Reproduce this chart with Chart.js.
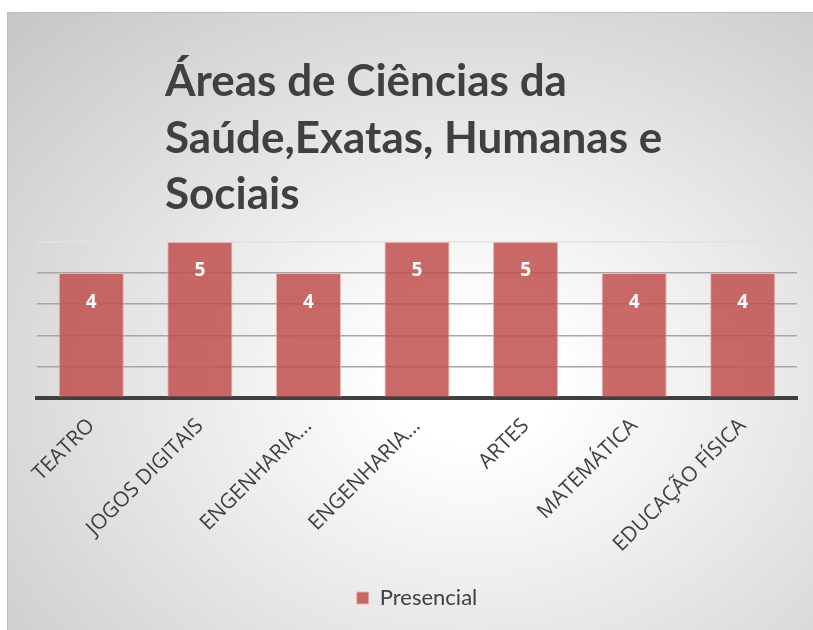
<!DOCTYPE html>
<html>
<head>
<meta charset="utf-8">
<script src="https://cdn.jsdelivr.net/npm/chart.js@4"></script>
<style>
  html, body { margin: 0; padding: 0; background: #fff; }
  #wrap {
    position: absolute; left: 7px; top: 12px; width: 806px; height: 618px;
    border-left: 1px solid #bdbdbd; border-top: 1px solid #bdbdbd;
    box-sizing: border-box;
    background: radial-gradient(ellipse farthest-corner at 58% 60%, #ffffff 0%, #ffffff 12%, #c6c6c6 100%);
  }
</style>
</head>
<body>
<div id="wrap"><canvas id="chart"></canvas></div>
<script>
const titleLines = ["Áreas de Ciências da", "Saúde,Exatas, Humanas e", "Sociais"];
const categories = ["TEATRO", "JOGOS DIGITAIS", "ENGENHARIA...", "ENGENHARIA...", "ARTES", "MATEMÁTICA", "EDUCAÇÃO FÍSICA"];
const presencial = [4, 5, 4, 5, 5, 4, 4];
const yTicks = [0, 1, 2, 3, 4, 5];

const textColor = "#404040";

// title is left aligned well inside the plot, so it is drawn by hand
const titlePlugin = {
  id: "titleBlock",
  afterDraw(chart) {
    const ctx = chart.ctx;
    ctx.save();
    ctx.fillStyle = textColor;
    ctx.font = "bold 44px Lato";
    ctx.textBaseline = "alphabetic";
    ctx.textAlign = "left";
    titleLines.forEach((line, i) => {
      ctx.fillText(line, 157, 83 + i * 56.5);
    });
    ctx.restore();
  }
};

const barLabels = {
  id: "barLabels",
  afterDatasetsDraw(chart) {
    const ctx = chart.ctx;
    const meta = chart.getDatasetMeta(0);
    ctx.save();
    ctx.fillStyle = "#ffffff";
    ctx.font = "bold 19px 'Open Sans'";
    ctx.textAlign = "center";
    ctx.textBaseline = "middle";
    meta.data.forEach((bar, i) => {
      ctx.fillText(String(presencial[i]), bar.x, bar.y + 29);
    });
    ctx.restore();
  }
};

new Chart(document.getElementById("chart"), {
  type: "bar",
  data: {
    labels: categories,
    datasets: [
      {
        label: "Presencial",
        data: presencial,
        backgroundColor: "rgba(192, 80, 77, 0.85)",
        borderColor: "rgba(235, 180, 178, 0.9)",
        borderWidth: 1,
        barPercentage: 0.6,
        categoryPercentage: 1,
      },
    ],
  },
  options: {
    responsive: true,
    maintainAspectRatio: false,
    animation: false,
    layout: {
      padding: { left: 29, right: 16, top: 229, bottom: 11 },
    },
    plugins: {
      legend: {
        position: "bottom",
        labels: {
          color: textColor,
          font: { family: "Lato", size: 22 },
          boxWidth: 12,
          boxHeight: 12,
          padding: 6,
        },
      },
      tooltip: { enabled: false },
    },
    scales: {
      x: {
        grid: { display: false },
        border: { display: true, color: textColor, width: 4 },
        afterFit: (scale) => {
          scale.height += 16;
        },
        ticks: {
          color: textColor,
          font: { family: "'Open Sans'", size: 21 },
          maxRotation: 45,
          minRotation: 45,
          padding: 8,
        },
      },
      y: {
        min: 0,
        max: 5,
        afterBuildTicks: (scale) => {
          scale.ticks = yTicks.map((v) => ({ value: v }));
        },
        afterFit: (scale) => {
          scale.width = 0;
        },
        ticks: { display: false },
        border: { display: false },
        grid: {
          color: (c) => (c.tick && c.tick.value === 5 ? "#e2e2e2" : "#a6a6a6"),
          lineWidth: 1.5,
          drawTicks: false,
        },
      },
    },
  },
  plugins: [titlePlugin, barLabels],
});
</script>
</body>
</html>
